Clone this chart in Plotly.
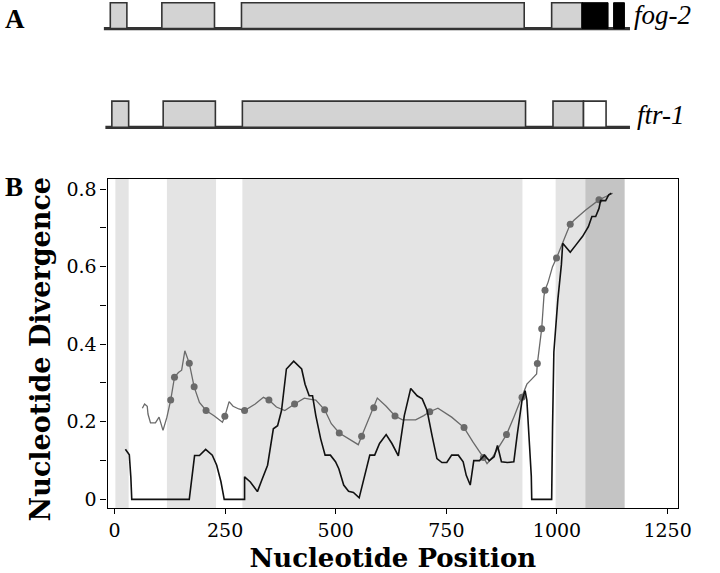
import plotly.graph_objects as go

# ---------------- data ----------------
# Panel A: exon coordinates (nucleotide scale)
fog2_exons = [(-9.5, 28), (107, 226), (287, 926), (988, 1056.5)]
fog2_black = [(1056.5, 1115.5), (1128, 1152.5)]
fog2_span = (-24, 1165)
ftr1_exons = [(-6, 32), (110, 228), (289, 929), (991, 1060)]
ftr1_white = [(1060, 1111)]
ftr1_span = (-20.6, 1165)

# Panel B: shaded exon bands
light_bands = [(2, 32), (118.5, 229.5), (289, 922), (997, 1064)]
dark_bands = [(1064, 1153)]

# black divergence line
black_x = [24.6, 33.5, 37, 39, 169, 181, 192, 206, 221, 231, 240.5, 248, 294, 294, 307, 323, 333,
           346, 359, 368.6, 377.5, 388.5, 405, 423, 430.7, 440, 447.6, 455, 466, 476, 488, 499.5,
           507, 518, 529, 540, 553, 566, 577, 588, 599, 614, 627, 641.5, 655, 669.5, 684, 695.5,
           706.5, 717.6, 728.7, 740, 751, 762, 777, 788, 795, 804, 812, 825, 836, 847, 858, 865.6,
           874.5, 888, 902.5, 910, 921, 928, 932, 938, 942, 943, 988, 990, 993, 1002, 1010, 1013,
           1021, 1030, 1043, 1058, 1071, 1079, 1087.5, 1095, 1098.6, 1110, 1117, 1123]
black_y = [0.129, 0.115, 0.056, 0, 0, 0.113, 0.113, 0.129, 0.114, 0.088, 0.046, 0, 0, 0.058, 0.045,
           0.02, 0.05, 0.088, 0.182, 0.19, 0.229, 0.336, 0.356, 0.336, 0.297, 0.267, 0.267, 0.216,
           0.156, 0.114, 0.114, 0.097, 0.079, 0.037, 0.021, 0.018, 0.004, 0.062, 0.114, 0.114,
           0.144, 0.167, 0.144, 0.112, 0.216, 0.286, 0.267, 0.259, 0.229, 0.165, 0.105, 0.095,
           0.095, 0.114, 0.114, 0.097, 0.062, 0.037, 0.10, 0.10, 0.114, 0.10, 0.11, 0.139, 0.097,
           0.095, 0.097, 0.165, 0.255, 0.28, 0.255, 0.139, 0.06, 0, 0, 0.184, 0.38, 0.515, 0.605,
           0.66, 0.65, 0.637, 0.656, 0.678, 0.703, 0.729, 0.729, 0.75, 0.77, 0.77, 0.785, 0.789]

# gray divergence line
gray_x = [63, 68, 74, 75.7, 81.4, 92.5, 100.7, 103.6, 109.6, 118.5, 127, 135.6, 144.5, 151.8, 159,
          169, 180, 192, 207, 225.7, 244, 249.4, 259, 268, 281, 294, 318, 336.6, 349, 366, 385,
          407, 429, 444, 455, 475, 490, 508, 529, 551, 558.5, 586, 594, 614, 634, 651, 680.6, 699,
          712.5, 731, 762, 790, 810, 833.7, 842, 854.5, 869, 886, 902.5, 921, 932, 943, 954,
          955.7, 958, 965.5, 970.6, 973, 980, 990, 999, 1007.6, 1015, 1023, 1030, 1039, 1065,
          1095, 1113, 1126]
gray_y = [0.235, 0.246, 0.24, 0.22, 0.197, 0.197, 0.212, 0.2, 0.178, 0.212, 0.256, 0.315, 0.327,
          0.333, 0.383, 0.351, 0.29, 0.25, 0.229, 0.215, 0.199, 0.214, 0.252, 0.24, 0.233, 0.229,
          0.246, 0.263, 0.256, 0.238, 0.229, 0.246, 0.261, 0.258, 0.256, 0.231, 0.195, 0.171,
          0.156, 0.141, 0.163, 0.236, 0.261, 0.24, 0.215, 0.205, 0.205, 0.216, 0.226, 0.235,
          0.212, 0.185, 0.148, 0.108, 0.092, 0.109, 0.135, 0.167, 0.212, 0.263, 0.297, 0.31,
          0.323, 0.35, 0.37, 0.44, 0.524, 0.539, 0.56, 0.60, 0.622, 0.648, 0.669, 0.69, 0.709,
          0.72, 0.746, 0.772, 0.782, 0.789]

# dots on the gray line
dot_x = [127, 135.6, 169, 180, 207, 249.4, 294, 349, 407, 475, 508, 558.5, 586, 634, 712.5, 790,
         833.7, 886, 921, 955.7, 965.5, 973, 999, 1030, 1095]
dot_y = [0.256, 0.315, 0.351, 0.29, 0.229, 0.214, 0.229, 0.256, 0.246, 0.231, 0.171, 0.163, 0.236,
         0.215, 0.226, 0.185, 0.108, 0.167, 0.263, 0.35, 0.44, 0.539, 0.622, 0.709, 0.772]

x_ticks = [0, 250, 500, 750, 1000, 1250]

# ---------------- figure ----------------
W, H = 720, 573
PX_PER_UNIT = 0.4506
X0_PX = 116.6


def px_to_x(px):
    return (px - X0_PX) / PX_PER_UNIT


fig = go.Figure()

# Panel B traces
fig.add_trace(go.Scatter(x=gray_x, y=gray_y, mode="lines",
                         line=dict(color="#6a6a6a", width=1.3), xaxis="x", yaxis="y",
                         showlegend=False, hoverinfo="skip"))
fig.add_trace(go.Scatter(x=dot_x, y=dot_y, mode="markers",
                         marker=dict(color="#6a6a6a", size=7), xaxis="x", yaxis="y",
                         showlegend=False, hoverinfo="skip"))
fig.add_trace(go.Scatter(x=black_x, y=black_y, mode="lines",
                         line=dict(color="#111111", width=1.6), xaxis="x", yaxis="y",
                         showlegend=False, hoverinfo="skip"))

shapes = []
for a, b in light_bands:
    shapes.append(dict(type="rect", xref="x", yref="y domain", x0=a, x1=b, y0=0, y1=1,
                       fillcolor="#e4e4e4", line=dict(width=0), layer="below"))
for a, b in dark_bands:
    shapes.append(dict(type="rect", xref="x", yref="y domain", x0=a, x1=b, y0=0, y1=1,
                       fillcolor="#c4c4c4", line=dict(width=0), layer="below"))

# Panel A gene structures (yaxis2 in pixel-like units, reversed)
rows = {"fog2": (1.7, 27.7), "ftr1": (100.7, 127.0)}
box_line = dict(color="#333333", width=1.6)


def add_boxes(lst, row, fill):
    top, base = rows[row]
    for a, b in lst:
        shapes.append(dict(type="rect", xref="x2", yref="y2", x0=a, x1=b, y0=base, y1=top,
                           fillcolor=fill,
                           line=box_line if fill != "#000000" else dict(color="#000000", width=1)))


add_boxes(fog2_exons, "fog2", "#d3d3d3")
add_boxes(fog2_black, "fog2", "#000000")
add_boxes(ftr1_exons, "ftr1", "#d3d3d3")
add_boxes(ftr1_white, "ftr1", "#ffffff")

for span, row in [(fog2_span, "fog2"), (ftr1_span, "ftr1")]:
    fig.add_trace(go.Scatter(x=list(span), y=[rows[row][1]] * 2, mode="lines",
                             line=dict(color="#333333", width=3.2), xaxis="x2", yaxis="y2",
                             showlegend=False, hoverinfo="skip"))

serif = "DejaVu Serif"
fig.update_layout(
    width=W, height=H,
    margin=dict(l=0, r=0, t=0, b=0),
    paper_bgcolor="white", plot_bgcolor="white",
    shapes=shapes,
    xaxis=dict(domain=[109.5 / W, 690.7 / W], range=[px_to_x(109.5), px_to_x(690.7)],
               tickvals=x_ticks, ticks="outside", ticklen=5, tickwidth=1.2, tickcolor="black",
               showline=True, linecolor="black", linewidth=1.2, mirror=True,
               showgrid=False, zeroline=False,
               tickfont=dict(family=serif, size=19, color="black"),
               title=dict(text="<b>Nucleotide Position</b>", standoff=8,
                          font=dict(family=serif, size=26, color="black"))),
    yaxis=dict(domain=[1 - 510 / H, 1 - 179 / H], range=[(501 - 510) / 390, (501 - 179) / 390],
               dtick=0.2, tick0=0, ticks="outside", ticklen=6, tickwidth=1.2, tickcolor="black",
               minor=dict(dtick=0.1, tick0=0, ticks="outside", ticklen=6, tickwidth=1.2,
                          tickcolor="black", showgrid=False),
               showline=True, linecolor="black", linewidth=1.2, mirror=True,
               showgrid=False, zeroline=False,
               tickfont=dict(family=serif, size=19, color="black")),
    xaxis2=dict(domain=[0, 1], range=[px_to_x(0), px_to_x(W)], visible=False),
    yaxis2=dict(domain=[1 - 140 / H, 1], range=[140, 0], visible=False),
)

fig.add_annotation(text="<b>Nucleotide Divergence</b>", x=41 / W, y=1 - 350 / H,
                   xref="paper", yref="paper", xanchor="center", yanchor="middle",
                   textangle=-90, showarrow=False,
                   font=dict(family=serif, size=27, color="black"))
fig.add_annotation(text="<i>fog-2</i>", x=644 / W, y=1 - 14 / H, xref="paper", yref="paper",
                   xanchor="left", yanchor="middle", showarrow=False,
                   font=dict(family="Liberation Serif", size=27, color="black"))
fig.add_annotation(text="<i>ftr-1</i>", x=647 / W, y=1 - 115 / H, xref="paper", yref="paper",
                   xanchor="left", yanchor="middle", showarrow=False,
                   font=dict(family="Liberation Serif", size=27, color="black"))
fig.add_annotation(text="<b>A</b>", x=3 / W, y=1 - 18 / H, xref="paper", yref="paper",
                   xanchor="left", yanchor="middle", showarrow=False,
                   font=dict(family="Liberation Serif", size=27, color="black"))
fig.add_annotation(text="<b>B</b>", x=3 / W, y=1 - 187 / H, xref="paper", yref="paper",
                   xanchor="left", yanchor="middle", showarrow=False,
                   font=dict(family="Liberation Serif", size=27, color="black"))

fig.write_html("out.html", config={"displayModeBar": False},
               post_script="document.body.style.margin='0';")
